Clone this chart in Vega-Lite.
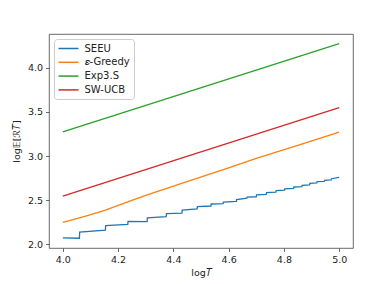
{
  "$schema": "https://vega.github.io/schema/vega-lite/v6.json",
  "width": 304,
  "height": 214,
  "autosize": {"type": "none"},
  "padding": {"left": 49, "top": 34, "right": 39, "bottom": 36},
  "background": "white",
  "config": {
    "font": "DejaVu Sans",
    "view": {"stroke": "#444", "strokeWidth": 0.8},
    "axis": {"grid": false, "domain": false, "tickColor": "#444", "tickSize": 3.5, "tickWidth": 0.8, "labelFontSize": 9.5, "labelColor": "#222", "titleFontSize": 9.5, "titleFontWeight": "normal", "titleColor": "#222", "labelPadding": 3}
  },
  "data": {"values": [
    {"x": 4.000, "y": 2.070, "s": "SEEU"}, {"x": 4.060, "y": 2.066, "s": "SEEU"},
    {"x": 4.061, "y": 2.135, "s": "SEEU"}, {"x": 4.154, "y": 2.158, "s": "SEEU"},
    {"x": 4.155, "y": 2.210, "s": "SEEU"}, {"x": 4.235, "y": 2.222, "s": "SEEU"},
    {"x": 4.236, "y": 2.258, "s": "SEEU"}, {"x": 4.305, "y": 2.254, "s": "SEEU"},
    {"x": 4.306, "y": 2.298, "s": "SEEU"}, {"x": 4.374, "y": 2.310, "s": "SEEU"},
    {"x": 4.375, "y": 2.345, "s": "SEEU"}, {"x": 4.431, "y": 2.350, "s": "SEEU"},
    {"x": 4.432, "y": 2.385, "s": "SEEU"}, {"x": 4.486, "y": 2.400, "s": "SEEU"},
    {"x": 4.487, "y": 2.425, "s": "SEEU"}, {"x": 4.536, "y": 2.432, "s": "SEEU"},
    {"x": 4.537, "y": 2.455, "s": "SEEU"}, {"x": 4.580, "y": 2.460, "s": "SEEU"},
    {"x": 4.581, "y": 2.475, "s": "SEEU"}, {"x": 4.628, "y": 2.485, "s": "SEEU"},
    {"x": 4.629, "y": 2.505, "s": "SEEU"}, {"x": 4.666, "y": 2.520, "s": "SEEU"},
    {"x": 4.667, "y": 2.534, "s": "SEEU"}, {"x": 4.700, "y": 2.537, "s": "SEEU"},
    {"x": 4.701, "y": 2.558, "s": "SEEU"}, {"x": 4.736, "y": 2.565, "s": "SEEU"},
    {"x": 4.737, "y": 2.583, "s": "SEEU"}, {"x": 4.771, "y": 2.590, "s": "SEEU"},
    {"x": 4.772, "y": 2.606, "s": "SEEU"}, {"x": 4.802, "y": 2.612, "s": "SEEU"},
    {"x": 4.803, "y": 2.628, "s": "SEEU"}, {"x": 4.835, "y": 2.633, "s": "SEEU"},
    {"x": 4.836, "y": 2.648, "s": "SEEU"}, {"x": 4.865, "y": 2.652, "s": "SEEU"},
    {"x": 4.866, "y": 2.667, "s": "SEEU"}, {"x": 4.893, "y": 2.672, "s": "SEEU"},
    {"x": 4.894, "y": 2.690, "s": "SEEU"}, {"x": 4.919, "y": 2.695, "s": "SEEU"},
    {"x": 4.920, "y": 2.708, "s": "SEEU"}, {"x": 4.946, "y": 2.712, "s": "SEEU"},
    {"x": 4.947, "y": 2.724, "s": "SEEU"}, {"x": 4.971, "y": 2.728, "s": "SEEU"},
    {"x": 4.972, "y": 2.742, "s": "SEEU"}, {"x": 5.000, "y": 2.758, "s": "SEEU"},
    {"x": 4.00, "y": 2.246, "s": "𝜀-Greedy"}, {"x": 4.08, "y": 2.315, "s": "𝜀-Greedy"},
    {"x": 4.154, "y": 2.386, "s": "𝜀-Greedy"}, {"x": 4.22, "y": 2.463, "s": "𝜀-Greedy"},
    {"x": 4.30, "y": 2.553, "s": "𝜀-Greedy"}, {"x": 4.43, "y": 2.690, "s": "𝜀-Greedy"},
    {"x": 4.60, "y": 2.866, "s": "𝜀-Greedy"}, {"x": 4.70, "y": 2.972, "s": "𝜀-Greedy"},
    {"x": 4.85, "y": 3.120, "s": "𝜀-Greedy"}, {"x": 5.00, "y": 3.270, "s": "𝜀-Greedy"},
    {"x": 4.00, "y": 3.273, "s": "Exp3.S"}, {"x": 5.00, "y": 4.276, "s": "Exp3.S"},
    {"x": 4.00, "y": 2.545, "s": "SW-UCB"}, {"x": 5.00, "y": 3.550, "s": "SW-UCB"}
  ]},
  "mark": {"type": "line", "strokeWidth": 1.3, "clip": true},
  "encoding": {
    "x": {"field": "x", "type": "quantitative", "title": "log𝑇",
      "scale": {"domain": [3.95, 5.05], "nice": false, "zero": false},
      "axis": {"values": [4.0, 4.2, 4.4, 4.6, 4.8, 5.0], "format": ".1f", "titlePadding": 3}},
    "y": {"field": "y", "type": "quantitative", "title": "log𝔼[ℛ𝑇]",
      "scale": {"domain": [1.955, 4.386], "nice": false, "zero": false},
      "axis": {"values": [2.0, 2.5, 3.0, 3.5, 4.0], "format": ".1f", "titlePadding": 6}},
    "color": {"field": "s", "type": "nominal",
      "scale": {"domain": ["SEEU", "𝜀-Greedy", "Exp3.S", "SW-UCB"], "range": ["#1f77b4", "#ff7f0e", "#2ca02c", "#d62728"]},
      "legend": {"title": null, "orient": "none", "legendX": 5, "legendY": 5, "symbolType": "M-1,0H3", "symbolSize": 100, "symbolStrokeWidth": 1.5, "labelFontSize": 10, "labelColor": "#222", "labelOffset": 15, "rowPadding": 2.8, "padding": 3.5, "strokeColor": "#ccc", "fillColor": "white", "cornerRadius": 3}
    }
  }
}
